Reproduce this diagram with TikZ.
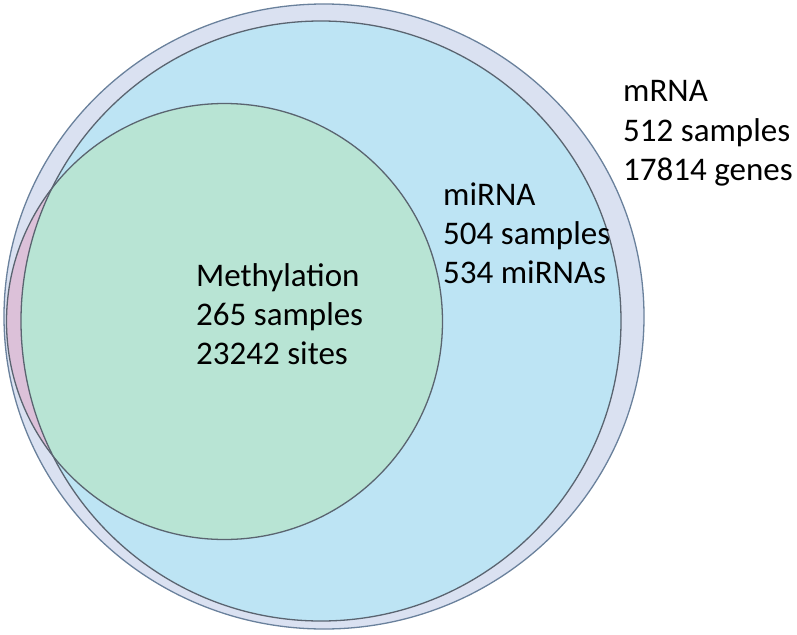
\documentclass[tikz,border=0pt]{standalone}
\usepackage{fontspec}
\setmainfont{Carlito}
\definecolor{mrnafill}{HTML}{DAE1F1}
\definecolor{mirnafill}{HTML}{BDE4F4}
\definecolor{methfill}{HTML}{B8E4D4}
\definecolor{pinkfill}{HTML}{DCC1D9}
\definecolor{edgeouter}{HTML}{6A819C}
\definecolor{edgeinner}{HTML}{5A6470}
\begin{document}
\begin{tikzpicture}[x=1pt,y=-1pt,
  lbl/.style={anchor=base west, inner sep=0pt, font=\fontsize{33}{39}\selectfont, text=black},
  outline/.style={line width=1.3pt}]
\useasboundingbox (0,0) rectangle (797,634);
% fills
\fill[mrnafill] (324,316.5) ellipse [x radius=320, y radius=312.5];
\fill[pinkfill] (224.5,321.5) circle [radius=218];
\fill[mirnafill] (321,321) circle [radius=300];
\begin{scope}
  \clip (321,321) circle [radius=300];
  \fill[methfill] (224.5,321.5) circle [radius=218];
\end{scope}
% outlines
\draw[outline, draw=edgeouter] (324,316.5) ellipse [x radius=320, y radius=312.5];
\draw[outline, draw=edgeinner] (321,321) circle [radius=300];
\draw[outline, draw=edgeinner] (224.5,321.5) circle [radius=218];
% labels
\node[lbl] (mrna1) at (623,101) {mRNA};
\node[lbl] (mrna2) at (623,141) {512 samples};
\node[lbl] (mrna3) at (623,180) {17814 genes};
\node[lbl] (mirna1) at (443,205) {miRNA};
\node[lbl] (mirna2) at (443,244) {504 samples};
\node[lbl] (mirna3) at (443,283) {534 miRNAs};
\node[lbl] (meth1) at (196,286) {Methylation};
\node[lbl] (meth2) at (196,325) {265 samples};
\node[lbl] (meth3) at (196,364) {23242 sites};
\end{tikzpicture}
\end{document}
